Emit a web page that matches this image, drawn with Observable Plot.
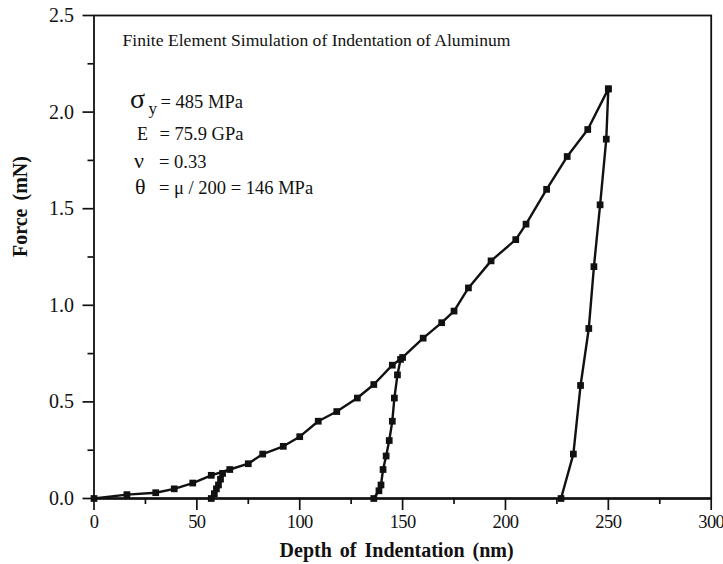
<!DOCTYPE html>
<html><head><meta charset="utf-8">
<script src="https://cdn.jsdelivr.net/npm/d3@7"></script>
<script src="https://cdn.jsdelivr.net/npm/@observablehq/plot@0.6"></script>
<style>
body{margin:0;background:#fff}#chart{width:723px;height:564px}
g[aria-label="x-axis tick label"] text{letter-spacing:-0.6px}
.axlabel text{word-spacing:3px}
</style>
</head><body><div id="chart"></div>
<script>
// ---- data ----
const loadDepth = [0,16,30,39,48,57,66,75,82,92,100,109,118,128,136,145,150,160,169,175,182,193,205,210,220,230,240,250];
const loadForce = [0,0.02,0.03,0.05,0.08,0.12,0.15,0.18,0.23,0.27,0.32,0.40,0.45,0.52,0.59,0.69,0.73,0.83,0.91,0.97,1.09,1.23,1.34,1.42,1.60,1.77,1.91,2.12];
const unload1Depth = [62.5,61.5,60.5,59.5,58.5,57];
const unload1Force = [0.13,0.10,0.07,0.05,0.025,0];
const unload2Depth = [149,147.5,146,145,143.5,142,140.5,139.5,138.5,136];
const unload2Force = [0.72,0.64,0.52,0.40,0.30,0.22,0.15,0.07,0.04,0];
const unload3Depth = [250,249,246,243,240.5,236.5,233,227];
const unload3Force = [2.12,1.86,1.52,1.20,0.88,0.585,0.23,0];

const xTicks = [0,50,100,150,200,250,300];
const xMinor = [25,75,125,175,225,275];
const yTicks = [0,0.5,1.0,1.5,2.0,2.5];
const yMinor = [0.25,0.75,1.25,1.75,2.25];

const xLabel = "Depth of Indentation (nm)";
const yLabel = "Force (mN)";
const title = "Finite Element Simulation of Indentation of Aluminum";
const paramSymbols = ["σ", "y", "E", "ν", "θ"];
const paramTexts = ["= 485 MPa", "= 75.9 GPa", "= 0.33", "= μ / 200 = 146 MPa"];

// ---- build table ----
const series = [
  ["load", loadDepth, loadForce],
  ["unload1", unload1Depth, unload1Force],
  ["unload2", unload2Depth, unload2Force],
  ["unload3", unload3Depth, unload3Force]
];
const rows = series.flatMap(([s, xs, ys]) => xs.map((x, i) => ({series: s, depth: x, force: ys[i]})));

const ink = "#111";
const serif = "'Liberation Serif','Times New Roman',serif";

// layout of annotation texts (dx/dy from the frame's top-left corner)
const symLayout = [
  {t: paramSymbols[0], dx: 36, dy: 92, fs: 28},
  {t: paramSymbols[1], dx: 54.5, dy: 98, fs: 17},
  {t: paramSymbols[2], dx: 43, dy: 124, fs: 18},
  {t: paramSymbols[3], dx: 40, dy: 152, fs: 22},
  {t: paramSymbols[4], dx: 41, dy: 178, fs: 22}
];
const txtLayout = [
  {t: paramTexts[0], dx: 66.5, dy: 92},
  {t: paramTexts[1], dx: 65.5, dy: 124},
  {t: paramTexts[2], dx: 65, dy: 152},
  {t: paramTexts[3], dx: 65, dy: 178}
];

const annot = [
  Plot.text([title], {frameAnchor: "top-left", dx: 28.5, dy: 30, text: d => d, textAnchor: "start", lineAnchor: "bottom", fontSize: 17.6, fill: ink})
];
for (const s of symLayout) annot.push(Plot.text([s.t], {frameAnchor: "top-left", dx: s.dx, dy: s.dy, text: d => d, textAnchor: "start", lineAnchor: "bottom", fontSize: s.fs, fill: ink}));
for (const s of txtLayout) annot.push(Plot.text([s.t], {frameAnchor: "top-left", dx: s.dx, dy: s.dy, text: d => d, textAnchor: "start", lineAnchor: "bottom", fontSize: 18.5, fill: ink}));

const chart = Plot.plot({
  width: 723,
  height: 564,
  marginLeft: 93.5,
  marginRight: 12.3,
  marginTop: 15,
  marginBottom: 66,
  style: {fontFamily: serif, fontSize: "19px", color: ink, background: "#fff"},
  x: {domain: [0, 300]},
  y: {domain: [0, 2.5]},
  marks: [
    Plot.axisX({ticks: xTicks, tickSize: 12, tickPadding: 4, tickFormat: d => String(d), label: null, strokeWidth: 1.7, fontSize: 18.5}),
    Plot.axisX({ticks: xMinor, tickSize: 6, tickFormat: () => "", label: null, strokeWidth: 1.7}),
    Plot.axisY({ticks: yTicks, tickSize: 11, tickPadding: 9, tickFormat: d3.format(".1f"), label: null, strokeWidth: 1.7, fontSize: 20}),
    Plot.axisY({ticks: yMinor, tickSize: 6, tickFormat: () => "", label: null, strokeWidth: 1.7}),
    Plot.frame({stroke: ink, strokeWidth: 1.8}),
    Plot.ruleY([0], {stroke: ink, strokeWidth: 2.6}),
    Plot.line(rows, {x: "depth", y: "force", z: "series", stroke: ink, strokeWidth: 2.4}),
    Plot.dot(rows, {x: "depth", y: "force", symbol: "square", r: 3.8, fill: ink, stroke: "none"}),
    Plot.text([xLabel], {frameAnchor: "bottom", dx: -6, dy: 58, text: d => d, lineAnchor: "bottom", fontWeight: "bold", fontSize: 20, fill: ink, className: "axlabel"}),
    Plot.text([yLabel], {frameAnchor: "left", dx: -73, rotate: -90, text: d => d, fontWeight: "bold", fontSize: 20, fill: ink, className: "axlabel"}),
    ...annot
  ]
});
document.getElementById("chart").appendChild(chart);
</script>
</body></html>
